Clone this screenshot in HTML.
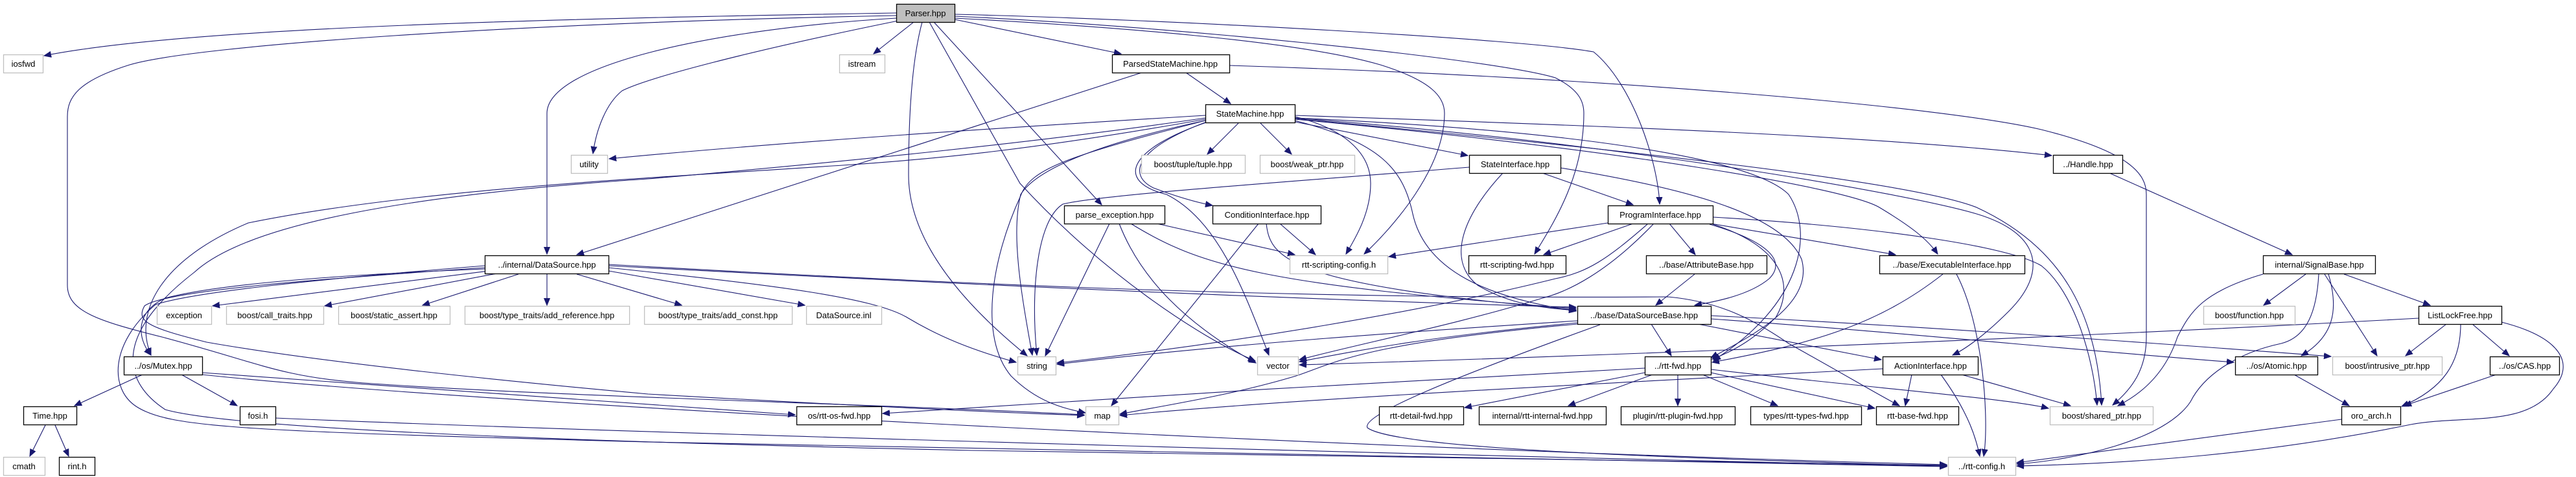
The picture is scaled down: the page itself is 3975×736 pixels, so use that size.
<!DOCTYPE html>
<html><head><meta charset="utf-8"><style>
html,body{margin:0;padding:0;background:#fff;}
svg{display:block;}
text{font-family:"Liberation Sans",sans-serif;font-size:13px;fill:#000;}
.e{fill:none;stroke:#191970;stroke-width:1.1;}
.b{fill:#fff;stroke:#000;stroke-width:1.3;}
.g{fill:#fff;stroke:#bfbfbf;stroke-width:1.3;}
.s{fill:#bfbfbf;stroke:#000;stroke-width:1.3;}
</style></head><body>
<svg width="3975" height="736" viewBox="0 0 3975 736" xmlns="http://www.w3.org/2000/svg">
<defs><marker id="a" markerUnits="userSpaceOnUse" markerWidth="12" markerHeight="10" refX="11" refY="5" orient="auto"><path d="M0,0.5 L11,5 L0,9.5 z" fill="#191970" stroke="#191970"/></marker></defs>
<g class="e" marker-end="url(#a)">
<path d="M1383,20 C900,28 300,40 68,86"/>
<path d="M1383,24 C800,35 300,70 200,100 C120,125 104,150 104,180 L104,440 C104,480 150,495 250,520 C400,560 430,580 550,590 C800,610 1400,625 1673,640"/>
<path d="M1383,28 C1100,45 844,100 844,175 L844,392"/>
<path d="M1386,32 C1150,80 1000,120 960,140 C935,160 920,200 915,237"/>
<path d="M1410,34 L1348,83"/>
<path d="M1423,34 C1405,100 1402,200 1402,270 C1402,380 1500,480 1585,549"/>
<path d="M1434,34 L1574,283 C1700,420 1850,520 1937,557"/>
<path d="M1441,34 L1700,316"/>
<path d="M1473,30 L1730,83"/>
<path d="M1473,28 C1700,40 2000,62 2130,100 C2210,125 2229,150 2229,175 C2229,260 2150,350 2105,392"/>
<path d="M1473,25 C1800,40 2300,90 2400,120 C2440,140 2444,160 2444,175 C2444,270 2400,340 2368,392"/>
<path d="M1473,22 C1800,30 2350,60 2459,80 C2520,130 2558,250 2561,315"/>
<path d="M1897,101 C2500,120 3000,165 3150,200 C3290,235 3312,270 3312,300 L3312,520 C3312,570 3290,600 3260,625"/>
<path d="M1830,112 L1899,160"/>
<path d="M1762,112 L890,393"/>
<path d="M1860,178 C1500,200 1200,220 940,245"/>
<path d="M1860,184 C1600,230 1450,245 1300,255 C1000,275 638,292 383,344 C250,400 205,480 233,548"/>
<path d="M1860,182 C1600,220 1300,250 1000,276 C638,300 383,344 300,420 C172,519 191,590 255,632 C370,665 1000,684 1500,695 C2200,710 2700,715 3004,718"/>
<path d="M1911,190 L1863,238"/>
<path d="M1945,190 L1993,238"/>
<path d="M1860,186 C1700,220 1600,260 1575,300 C1560,360 1575,450 1593,548"/>
<path d="M1860,186 C1650,240 1590,260 1575,302 C1530,400 1510,520 1560,580 C1600,620 1640,630 1675,637"/>
<path d="M1862,188 C1750,230 1740,270 1780,290 C1820,305 1850,313 1871,317"/>
<path d="M1864,188 C1740,230 1720,280 1800,300 C1880,340 1920,450 1958,548"/>
<path d="M1998,180 C2080,200 2115,240 2115,283 C2115,330 2090,370 2077,392"/>
<path d="M1998,186 C2130,220 2165,260 2180,330 C2200,420 2300,460 2432,480"/>
<path d="M1998,188 L2265,240"/>
<path d="M1998,182 C2400,200 2700,240 2760,300 C2800,360 2780,470 2644,556"/>
<path d="M1998,184 C2500,230 2850,290 2900,320 C2950,350 2975,370 2990,392"/>
<path d="M1998,182 C2500,220 2950,300 3050,330 C3150,360 3160,420 3100,480 C3060,520 3030,540 3013,548"/>
<path d="M1998,183 C2500,230 2950,280 3050,320 C3180,380 3235,480 3243,625"/>
<path d="M1998,178 C2500,195 2900,210 3166,240"/>
<path d="M2643,335 C2900,350 3100,380 3150,410 C3200,450 3230,550 3236,625"/>
<path d="M2267,258 C2000,280 1700,300 1640,315 C1600,340 1590,450 1600,548"/>
<path d="M2380,267 L2520,316"/>
<path d="M2319,267 C2260,330 2230,400 2280,440 C2330,470 2380,475 2432,479"/>
<path d="M2408,259 C2600,290 2750,330 2780,400 C2800,470 2700,520 2640,552"/>
<path d="M2481,344 L2143,396"/>
<path d="M2520,345 L2382,393"/>
<path d="M2576,345 L2616,393"/>
<path d="M2640,345 L2925,393"/>
<path d="M2638,346 C2720,370 2760,400 2730,430 C2700,455 2650,465 2615,471"/>
<path d="M2643,346 C2750,380 2770,440 2740,490 C2710,520 2680,540 2642,554"/>
<path d="M2542,346 C2480,400 2450,420 2400,430 C2200,480 1900,530 1631,560"/>
<path d="M2551,346 C2480,420 2420,450 2380,460 C2250,500 2100,530 2005,555"/>
<path d="M1712,345 L1613,549"/>
<path d="M1727,345 C1760,430 1830,500 1938,560"/>
<path d="M1745,345 C1850,410 1950,440 2432,476"/>
<path d="M1785,345 L1998,393"/>
<path d="M1942,345 L1715,626"/>
<path d="M1975,345 L2030,393"/>
<path d="M1954,345 C1960,400 1990,440 2432,478"/>
<path d="M770,416 L328,472"/>
<path d="M772,421 L501,472"/>
<path d="M800,423 L652,471"/>
<path d="M844,423 L844,471"/>
<path d="M890,423 L1052,471"/>
<path d="M939,418 L1242,471"/>
<path d="M939,413 C1200,440 1350,460 1400,490 C1450,520 1500,540 1568,559"/>
<path d="M939,410 C1500,440 2000,462 2432,474"/>
<path d="M939,408 C1500,440 2000,462 2574,458 C2650,465 2702,490 2760,530 C2850,580 2900,610 2931,626"/>
<path d="M748,415 C500,425 330,440 255,460 C210,480 210,520 233,548"/>
<path d="M748,413 C500,430 255,448 223,472 C210,495 226,505 319,528 C500,560 800,590 1000,608 C1300,625 1500,635 1673,641"/>
<path d="M748,410 C500,430 300,450 240,470 C169,530 169,600 210,627 C260,660 370,665 1000,682 C2000,700 2600,712 3004,720"/>
<path d="M312,575 L1227,640"/>
<path d="M312,578 C700,620 2000,690 3004,717"/>
<path d="M425,645 C1000,670 2500,710 3004,719"/>
<path d="M220,578 L115,626"/>
<path d="M280,578 L366,626"/>
<path d="M70,656 L46,704"/>
<path d="M85,656 L106,704"/>
<path d="M2434,495 C2200,510 1900,530 1631,562"/>
<path d="M2434,498 C2200,520 2100,540 2005,558"/>
<path d="M2434,500 C2100,530 2060,560 2000,580 C1900,610 1800,625 1728,639"/>
<path d="M2548,500 L2579,549"/>
<path d="M2620,500 L2903,555"/>
<path d="M2469,501 C2250,580 2100,640 2110,660 C2150,690 2500,705 3004,719"/>
<path d="M2640,492 C2900,510 3200,540 3447,559"/>
<path d="M2640,487 C3000,505 3400,535 3597,550"/>
<path d="M2538,568 C2200,585 1700,615 1362,638"/>
<path d="M2905,569 C2500,590 2000,615 1728,641"/>
<path d="M2538,575 L2260,629"/>
<path d="M2550,578 L2420,626"/>
<path d="M2589,578 L2589,626"/>
<path d="M2627,578 L2743,626"/>
<path d="M2640,575 L2893,630"/>
<path d="M2640,570 C2900,600 3100,615 3161,630"/>
<path d="M2950,578 L2940,626"/>
<path d="M2995,578 C3040,640 3050,680 3055,704"/>
<path d="M3027,578 L3195,626"/>
<path d="M2998,423 C2900,500 2800,530 2642,559"/>
<path d="M3019,423 C3060,500 3070,650 3061,704"/>
<path d="M2615,423 L2555,471"/>
<path d="M3255,267 L3537,393"/>
<path d="M3558,423 L3493,471"/>
<path d="M3617,423 L3750,471"/>
<path d="M3587,423 L3668,549"/>
<path d="M3593,423 C3610,480 3600,520 3551,549"/>
<path d="M3492,423 C3400,450 3380,480 3360,520 C3340,580 3300,610 3268,626"/>
<path d="M3578,423 C3575,480 3560,520 3520,530 C3450,545 3400,580 3380,620 C3340,680 3200,710 3112,716"/>
<path d="M3775,500 L3712,549"/>
<path d="M3815,500 L3872,549"/>
<path d="M3797,500 C3797,560 3770,600 3706,627"/>
<path d="M3860,497 C3950,520 3975,560 3940,600 C3900,660 3800,640 3720,655 C3500,700 3300,715 3112,719"/>
<path d="M3732,491 C3300,515 2600,545 2005,563"/>
<path d="M3540,578 L3625,626"/>
<path d="M3852,578 L3710,626"/>
<path d="M3613,647 L3112,714"/>
</g>
<g>
<rect class="s" x="1383.5" y="6.5" width="90" height="28"/><text x="1428" y="25" text-anchor="middle">Parser.hpp</text>
<rect class="g" x="5.5" y="84.5" width="61" height="28"/><text x="36" y="103" text-anchor="middle">iosfwd</text>
<rect class="g" x="1295.5" y="84.5" width="70" height="28"/><text x="1330" y="103" text-anchor="middle">istream</text>
<rect class="b" x="1716.5" y="84.5" width="181" height="28"/><text x="1806" y="103" text-anchor="middle">ParsedStateMachine.hpp</text>
<rect class="b" x="1860.5" y="161.5" width="138" height="28"/><text x="1929" y="180" text-anchor="middle">StateMachine.hpp</text>
<rect class="g" x="881.5" y="239.5" width="56" height="28"/><text x="909" y="258" text-anchor="middle">utility</text>
<rect class="g" x="1761.5" y="239.5" width="160" height="28"/><text x="1841" y="258" text-anchor="middle">boost/tuple/tuple.hpp</text>
<rect class="g" x="1944.5" y="239.5" width="146" height="28"/><text x="2017" y="258" text-anchor="middle">boost/weak_ptr.hpp</text>
<rect class="b" x="2267.5" y="239.5" width="141" height="28"/><text x="2338" y="258" text-anchor="middle">StateInterface.hpp</text>
<rect class="b" x="3168.5" y="239.5" width="107" height="28"/><text x="3222" y="258" text-anchor="middle">../Handle.hpp</text>
<rect class="b" x="1642.5" y="317.5" width="155" height="28"/><text x="1720" y="336" text-anchor="middle">parse_exception.hpp</text>
<rect class="b" x="1871.5" y="317.5" width="167" height="28"/><text x="1955" y="336" text-anchor="middle">ConditionInterface.hpp</text>
<rect class="b" x="2481.5" y="317.5" width="162" height="28"/><text x="2562" y="336" text-anchor="middle">ProgramInterface.hpp</text>
<rect class="b" x="748.5" y="394.5" width="191" height="28"/><text x="844" y="413" text-anchor="middle">../internal/DataSource.hpp</text>
<rect class="g" x="1990.5" y="394.5" width="151" height="28"/><text x="2066" y="413" text-anchor="middle">rtt-scripting-config.h</text>
<rect class="b" x="2266.5" y="394.5" width="150" height="28"/><text x="2341" y="413" text-anchor="middle">rtt-scripting-fwd.hpp</text>
<rect class="b" x="2540.5" y="394.5" width="186" height="28"/><text x="2633" y="413" text-anchor="middle">../base/AttributeBase.hpp</text>
<rect class="b" x="2900.5" y="394.5" width="224" height="28"/><text x="3012" y="413" text-anchor="middle">../base/ExecutableInterface.hpp</text>
<rect class="b" x="3492.5" y="394.5" width="173" height="28"/><text x="3579" y="413" text-anchor="middle">internal/SignalBase.hpp</text>
<rect class="g" x="242.5" y="472.5" width="84" height="28"/><text x="284" y="491" text-anchor="middle">exception</text>
<rect class="g" x="349.5" y="472.5" width="150" height="28"/><text x="424" y="491" text-anchor="middle">boost/call_traits.hpp</text>
<rect class="g" x="522.5" y="472.5" width="172" height="28"/><text x="608" y="491" text-anchor="middle">boost/static_assert.hpp</text>
<rect class="g" x="717.5" y="472.5" width="254" height="28"/><text x="844" y="491" text-anchor="middle">boost/type_traits/add_reference.hpp</text>
<rect class="g" x="994.5" y="472.5" width="228" height="28"/><text x="1108" y="491" text-anchor="middle">boost/type_traits/add_const.hpp</text>
<rect class="g" x="1244.5" y="472.5" width="116" height="28"/><text x="1302" y="491" text-anchor="middle">DataSource.inl</text>
<rect class="b" x="2434.5" y="472.5" width="206" height="28"/><text x="2537" y="491" text-anchor="middle">../base/DataSourceBase.hpp</text>
<rect class="g" x="3400.5" y="472.5" width="141" height="28"/><text x="3471" y="491" text-anchor="middle">boost/function.hpp</text>
<rect class="b" x="3732.5" y="472.5" width="128" height="28"/><text x="3796" y="491" text-anchor="middle">ListLockFree.hpp</text>
<rect class="b" x="191.5" y="550.5" width="121" height="28"/><text x="252" y="569" text-anchor="middle">../os/Mutex.hpp</text>
<rect class="g" x="1570.5" y="550.5" width="59" height="28"/><text x="1600" y="569" text-anchor="middle">string</text>
<rect class="g" x="1940.5" y="550.5" width="63" height="28"/><text x="1972" y="569" text-anchor="middle">vector</text>
<rect class="b" x="2538.5" y="550.5" width="102" height="28"/><text x="2589" y="569" text-anchor="middle">../rtt-fwd.hpp</text>
<rect class="b" x="2905.5" y="550.5" width="147" height="28"/><text x="2979" y="569" text-anchor="middle">ActionInterface.hpp</text>
<rect class="b" x="3449.5" y="550.5" width="127" height="28"/><text x="3513" y="569" text-anchor="middle">../os/Atomic.hpp</text>
<rect class="g" x="3599.5" y="550.5" width="169" height="28"/><text x="3684" y="569" text-anchor="middle">boost/intrusive_ptr.hpp</text>
<rect class="b" x="3842.5" y="550.5" width="107" height="28"/><text x="3896" y="569" text-anchor="middle">../os/CAS.hpp</text>
<rect class="b" x="36.5" y="627.5" width="82" height="28"/><text x="77" y="646" text-anchor="middle">Time.hpp</text>
<rect class="b" x="370.5" y="627.5" width="55" height="28"/><text x="398" y="646" text-anchor="middle">fosi.h</text>
<rect class="b" x="1229.5" y="627.5" width="131" height="28"/><text x="1295" y="646" text-anchor="middle">os/rtt-os-fwd.hpp</text>
<rect class="g" x="1675.5" y="627.5" width="51" height="28"/><text x="1701" y="646" text-anchor="middle">map</text>
<rect class="b" x="2128.5" y="627.5" width="130" height="28"/><text x="2193" y="646" text-anchor="middle">rtt-detail-fwd.hpp</text>
<rect class="b" x="2282.5" y="627.5" width="196" height="28"/><text x="2380" y="646" text-anchor="middle">internal/rtt-internal-fwd.hpp</text>
<rect class="b" x="2501.5" y="627.5" width="176" height="28"/><text x="2589" y="646" text-anchor="middle">plugin/rtt-plugin-fwd.hpp</text>
<rect class="b" x="2701.5" y="627.5" width="171" height="28"/><text x="2787" y="646" text-anchor="middle">types/rtt-types-fwd.hpp</text>
<rect class="b" x="2895.5" y="627.5" width="127" height="28"/><text x="2959" y="646" text-anchor="middle">rtt-base-fwd.hpp</text>
<rect class="g" x="3163.5" y="627.5" width="159" height="28"/><text x="3243" y="646" text-anchor="middle">boost/shared_ptr.hpp</text>
<rect class="b" x="3613.5" y="627.5" width="91" height="28"/><text x="3659" y="646" text-anchor="middle">oro_arch.h</text>
<rect class="g" x="5.5" y="705.5" width="64" height="28"/><text x="37" y="724" text-anchor="middle">cmath</text>
<rect class="b" x="91.5" y="705.5" width="55" height="28"/><text x="119" y="724" text-anchor="middle">rint.h</text>
<rect class="g" x="3006.5" y="705.5" width="104" height="28"/><text x="3058" y="724" text-anchor="middle">../rtt-config.h</text>
</g>
</svg>
</body></html>
